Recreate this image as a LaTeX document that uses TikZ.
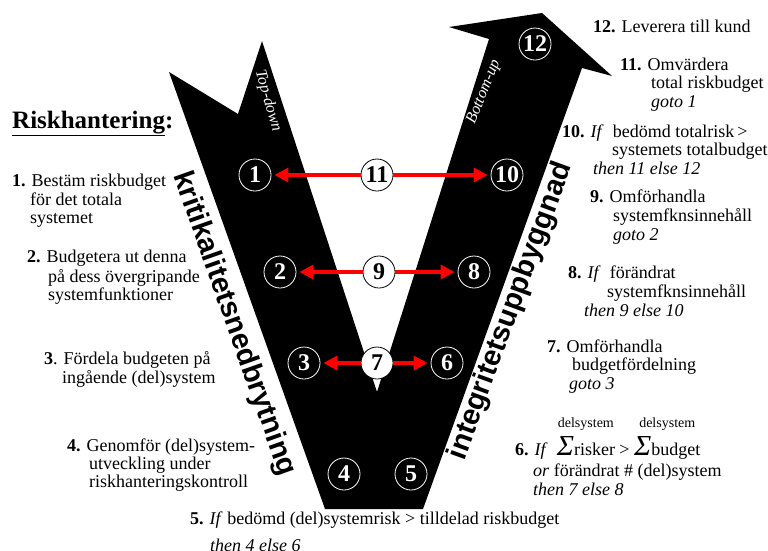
\documentclass[tikz,border=0pt]{standalone}
\usepackage{fontspec}
\setmainfont{Liberation Serif}
\newfontfamily\armfont{Liberation Sans}
\usetikzlibrary{arrows.meta}

% sum sign with "delsystem" above it
\newcommand\sigmaover[1]{\smash{\begin{tabular}[b]{@{}c@{}}{\fontsize{14}{14}\selectfont delsystem}\\[3pt]{\fontsize{29}{29}\selectfont\itshape Σ}#1\end{tabular}}}

\begin{document}
\begin{tikzpicture}[x=1pt,y=-1pt,
  txt/.style={anchor=north west,inner sep=0pt,align=left,font=\fontsize{18}{18}\selectfont},
  rtxt/.style={txt,font=\fontsize{18}{18.5}\selectfont},
  numcirc/.style={circle,draw=white,fill=black,text=white,line width=0.8pt,minimum size=32pt,inner sep=0pt,font=\fontsize{24}{24}\selectfont\bfseries},
  midcirc/.style={numcirc,draw=black,fill=white,text=black},
  redlink/.style={red,line width=4pt,-{Triangle[length=14pt,width=14pt]},shorten >=3pt},
  armlabel/.style={font=\armfont\fontsize{29}{29}\selectfont\bfseries,inner sep=0pt},
  dirlabel/.style={text=white,font=\fontsize{16}{16}\selectfont\itshape,inner sep=0pt}]
\useasboundingbox (0,0) rectangle (768,550);

% the V
\fill (169,72) -- (238,114) -- (262,41) -- (377,392) -- (489,39) -- (449,27)
  -- (542,13) -- (612,76) -- (582,68) -- (423,509) -- (325,509) -- cycle;

\node[dirlabel,rotate=-74] (topdown) at (268,101) {Top-down};
\node[dirlabel,rotate=68] (bottomup) at (484,92) {Bottom-up};

\node[armlabel,rotate=-70.5] (down) at (234,324) {kritikalitetsnedbrytning};
\node[armlabel,rotate=70] (up) at (511,311) {integritetsuppbyggnad};

% steps
\node[numcirc] (c1) at (255,175) {1};
\node[numcirc] (c2) at (280,272) {2};
\node[numcirc] (c3) at (304,363) {3};
\node[numcirc] (c4) at (344,474) {4};
\node[numcirc] (c5) at (411,474) {5};
\node[numcirc] (c6) at (447,363) {6};
\node[midcirc] (c7) at (377,363) {7};
\node[numcirc] (c8) at (474,272) {8};
\node[midcirc] (c9) at (379,272) {9};
\node[numcirc] (c10) at (507,175) {10};
\node[midcirc] (c11) at (377,175) {11};
\node[numcirc] (c12) at (535,44) {12};

\draw[redlink] (c11) -- (c1);
\draw[redlink] (c11) -- (c10);
\draw[redlink] (c9) -- (c2);
\draw[redlink] (c9) -- (c8);
\draw[redlink] (c7) -- (c3);
\draw[redlink] (c7) -- (c6);

% left column
\node[anchor=base west,inner sep=0pt,font=\fontsize{25}{25}\selectfont\bfseries] (title) at (12,128) {\underline{Riskhantering}:};
\node[txt] (t1) at (12,174) {\strut\textbf{1.} Bestäm riskbudget\\\hspace*{18pt}för det totala\\\hspace*{18pt}systemet};
\node[txt] (t2) at (27,250) {\strut\textbf{2.} Budgetera ut denna\\\hspace*{21pt}på dess övergripande\\\hspace*{21pt}systemfunktioner};
\node[txt] (t3) at (44,351) {\strut\textbf{3}. Fördela budgeten på\\\hspace*{18pt}ingående (del)system};
\node[txt] (t4) at (67,439) {\strut\textbf{4.} Genomför (del)system-\\\hspace*{22pt}utveckling under\\\hspace*{22pt}riskhanteringskontroll};
\node[txt] (t5) at (190,512) {\strut\textbf{5.} \textit{If} bedömd (del)systemrisk > tilldelad riskbudget\\[9pt]\hspace*{20pt}\textit{then 4 else 6}};

% right column
\node[txt] (t12) at (593,20) {\strut\textbf{12.} Leverera till kund};
\node[rtxt] (t11) at (620,57) {\strut\textbf{11.} Omvärdera\\\hspace*{31pt}total riskbudget\\\hspace*{31pt}\textit{goto 1}};
\node[rtxt] (t10) at (562,124) {\strut\textbf{10.} \textit{If}\enspace bedömd totalrisk\,>\\\hspace*{50pt}systemets totalbudget\\\hspace*{31pt}\textit{then 11 else 12}};
\node[rtxt] (t9) at (590,189) {\strut\textbf{9.} Omförhandla\\\hspace*{23pt}systemfknsinnehåll\\\hspace*{23pt}\textit{goto 2}};
\node[rtxt] (t8) at (568,265) {\strut\textbf{8.} \textit{If}\enspace förändrat\\\hspace*{39pt}systemfknsinnehåll\\\hspace*{16pt}\textit{then 9 else 10}};
\node[rtxt] (t7) at (547,339) {\strut\textbf{7.} Omförhandla\\\hspace*{25pt}budgetfördelning\\\hspace*{22pt}\textit{goto 3}};
\node[rtxt] (t6) at (515,442) {\strut\textbf{6.} \textit{If}\enspace\sigmaover{risker} > \sigmaover{budget}\\[3pt]\hspace*{18pt}\textit{or} förändrat \# (del)system\\\hspace*{18pt}\textit{then 7 else 8}};
\end{tikzpicture}
\end{document}
